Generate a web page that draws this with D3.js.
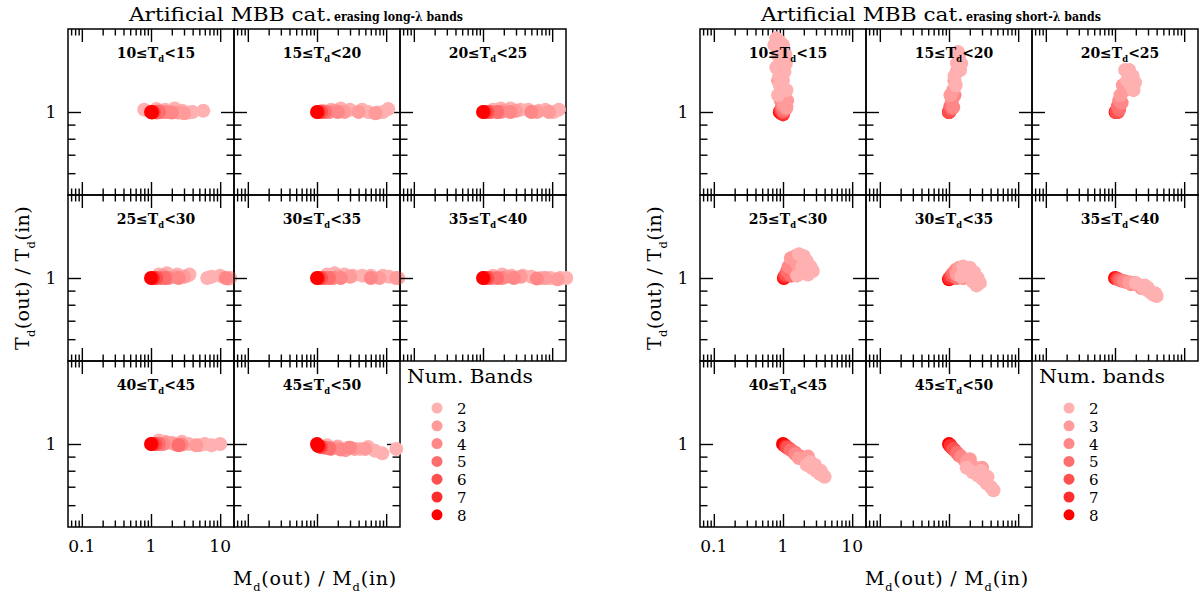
<!DOCTYPE html>
<html>
<head>
<meta charset="utf-8">
<script src="https://cdn.jsdelivr.net/npm/d3@7"></script>
<style>
body { margin: 0; background: #fff; }
svg { display: block; }
</style>
</head>
<body>
<svg id="fig" width="1204" height="599"></svg>
<script>
const bandCounts = [2, 3, 4, 5, 6, 7, 8];
const bandColors = ['#ffb0b0', '#ff9b9b', '#ff8787', '#ff6e6e', '#ff5050', '#ff2d2d', '#ff0000'];
const tempBins = [[10, 15], [15, 20], [20, 25], [25, 30], [30, 35], [35, 40], [40, 45], [45, 50]];
const xMajorTicks = [0.1, 1, 10];
const xMinorTicks = [0.07, 0.08, 0.09, 0.2, 0.3, 0.4, 0.5, 0.6, 0.7, 0.8, 0.9, 2, 3, 4, 5, 6, 7, 8, 9];
const yMajorTicks = [1];
const yMinorTicks = [0.6, 0.7, 0.8, 0.9];
const xTickLabels = ['0.1', '1', '10'];
const yTickLabels = ['1'];

// one list per Td bin: [Md(out)/Md(in), Td(out)/Td(in), number of bands]
const longErased = [
  [[0.8,1.02,2],[1.2,1.025,2],[1.6,1.02,2],[2.2,1.03,2],[2.8,1.01,2],[3.5,0.995,2],[4.0,1.0,2],[5.7,1.01,2],
   [1.3,1.01,3],[1.8,1.0,3],[2.5,0.995,3],[3.0,0.99,3],
   [1.4,1.0,4],[1.6,1.0,4],[2.0,0.995,4],
   [1.2,0.995,5],[1.3,1.0,5],[1.1,1.0,6],[1.05,1.0,7],[1.0,1.0,8],[1.03,0.995,8]],
  [[1.2,1.01,2],[1.6,1.02,2],[2.2,1.03,2],[3.0,1.02,2],[4.5,1.02,2],[5.5,1.0,2],[7.5,0.995,2],[9.0,1.0,2],[10.7,1.025,2],
   [1.8,1.01,3],[2.5,1.0,3],[4.0,1.0,3],[7.0,0.99,3],
   [1.5,1.0,4],[2.0,1.0,4],[1.3,1.0,5],[1.15,1.0,6],[1.05,1.0,7],[1.0,1.0,8]],
  [[1.4,1.02,2],[1.8,1.03,2],[2.5,1.03,2],[3.5,1.02,2],[4.5,1.02,2],[6.5,1.01,2],[8.0,1.02,2],[10.5,1.0,2],[12.5,1.02,2],
   [2.0,1.01,3],[3.0,1.01,3],[6.0,1.0,3],[9.0,1.0,3],
   [1.8,1.0,4],[2.5,1.0,4],[5.0,1.0,4],[1.3,1.0,5],[1.6,1.0,5],[1.15,1.0,6],[1.05,1.0,7],[1.0,1.0,8]],
  [[1.3,1.03,2],[1.7,1.04,2],[2.4,1.03,2],[3.4,1.02,2],[3.6,1.03,2],[6.5,1.0,2],[7.5,1.01,2],[10.0,1.02,2],[14.0,1.0,2],
   [1.5,1.02,3],[2.2,1.01,3],[3.0,1.01,3],[13.0,0.995,3],
   [1.8,1.0,4],[2.5,1.0,4],[12.0,1.0,4],[1.4,1.0,5],[1.6,1.0,5],[1.2,1.0,6],[1.07,1.0,7],[1.0,1.0,8]],
  [[1.4,1.03,2],[1.8,1.04,2],[2.5,1.03,2],[3.3,1.02,2],[4.5,1.02,2],[6.0,1.02,2],[9.0,1.02,2],[11.0,1.01,2],[15.0,1.0,2],
   [2.0,1.01,3],[3.0,1.01,3],[8.0,1.0,3],[14.0,1.0,3],
   [1.7,1.0,4],[2.2,1.0,4],[6.0,1.0,4],[1.3,1.0,5],[1.5,1.0,5],[1.15,1.0,6],[1.05,1.0,7],[1.0,1.0,8]],
  [[1.4,1.02,2],[1.9,1.03,2],[2.6,1.02,2],[3.8,1.02,2],[5.0,1.01,2],[7.0,1.0,2],[9.5,1.0,2],[13.0,1.0,2],[16.0,1.0,2],
   [2.2,1.01,3],[3.5,1.01,3],[8.0,1.0,3],[12.0,0.99,3],
   [1.9,1.0,4],[2.8,1.0,4],[6.0,0.995,4],[1.3,1.0,5],[1.6,1.0,5],[1.15,1.0,6],[1.05,1.0,7],[1.0,1.0,8]],
  [[1.3,1.03,2],[1.6,1.02,2],[2.0,1.01,2],[2.8,1.02,2],[3.5,1.0,2],[5.0,0.99,2],[6.0,1.0,2],[7.5,0.99,2],[10.0,1.0,2],
   [1.7,1.01,3],[2.2,1.0,3],[4.5,0.99,3],
   [1.5,1.0,4],[2.8,0.995,4],[1.3,1.0,5],[2.5,0.99,5],[1.15,1.0,6],[1.05,1.0,7],[1.0,1.0,8]],
  [[1.4,0.99,2],[2.0,0.98,2],[2.8,0.97,2],[4.2,0.96,2],[5.5,0.975,2],[6.9,0.945,2],[8.8,0.925,2],[14.0,0.96,2],
   [1.9,0.97,3],[2.6,0.95,3],[3.5,0.96,3],[5.0,0.96,3],
   [1.6,0.96,4],[2.2,0.955,4],[3.0,0.97,4],[1.3,0.97,5],[1.5,0.965,5],[1.15,0.975,6],[1.08,0.98,7],[1.0,1.0,8],[1.03,0.985,8]]
];

const shortErased = [
  [[0.88,1.35,2],[0.92,1.5,2],[1.0,1.55,2],[0.95,1.7,2],[1.05,1.4,2],[0.8,1.85,2],[0.9,1.8,2],[0.75,1.75,2],[1.0,1.75,2],
   [1.0,1.3,2],[1.12,1.2,2],[0.85,1.6,2],[0.9,1.25,2],[0.8,1.45,2],[1.1,1.5,2],[1.08,1.62,2],[0.85,1.15,2],
   [1.02,1.08,3],[0.95,1.2,3],[1.15,1.1,3],[0.85,1.3,3],[1.12,1.04,3],
   [1.0,1.05,4],[0.93,1.1,4],[1.1,1.03,4],
   [0.97,1.04,5],[1.02,1.01,5],[0.95,1.02,6],[1.0,1.0,6],[0.92,1.01,7],[1.0,0.98,7],[0.9,1.0,8],[0.95,0.99,8]],
  [[1.2,1.35,2],[1.3,1.5,2],[1.4,1.6,2],[1.5,1.5,2],[1.35,1.65,2],[1.25,1.25,2],[1.45,1.42,2],
   [1.15,1.2,3],[1.2,1.3,3],[1.3,1.4,3],[1.05,1.15,3],
   [1.1,1.1,4],[1.2,1.15,4],[1.15,1.04,4],[1.05,1.05,5],[1.1,1.03,5],[1.0,1.0,6],[1.03,1.02,6],[1.0,1.0,7],[1.0,1.0,8]],
  [[1.4,1.42,2],[1.6,1.42,2],[1.8,1.35,2],[1.95,1.28,2],[1.5,1.3,2],[1.7,1.25,2],[1.85,1.2,2],
   [1.3,1.25,3],[1.2,1.15,3],[1.4,1.2,3],
   [1.15,1.1,4],[1.25,1.08,4],[1.1,1.05,5],[1.15,1.02,5],[1.05,1.0,6],[1.1,1.0,6],[1.05,1.0,7],[1.02,1.0,8]],
  [[1.7,1.22,2],[2.0,1.2,2],[2.2,1.15,2],[2.5,1.1,2],[2.7,1.06,2],[1.9,1.1,2],[2.3,1.03,2],[1.6,1.02,2],
   [1.3,1.18,3],[1.6,1.12,3],[1.8,1.05,3],[1.5,1.2,3],
   [1.2,1.1,4],[1.5,1.05,4],[1.4,1.15,4],[1.15,1.06,5],[1.3,1.02,5],[1.1,1.03,6],[1.05,1.01,7],[1.03,1.0,8]],
  [[1.6,1.1,2],[2.0,1.09,2],[2.3,1.05,2],[2.6,1.0,2],[2.8,0.96,2],[2.2,0.97,2],[1.5,1.01,2],[2.5,0.94,2],
   [1.4,1.09,3],[1.8,1.07,3],[2.0,1.02,3],[1.3,1.03,3],
   [1.25,1.07,4],[1.5,1.06,4],[1.6,1.0,4],[1.15,1.04,5],[1.3,1.0,5],[1.08,1.02,6],[1.03,1.0,7],[1.0,0.99,8]],
  [[2.0,0.96,2],[2.5,0.93,2],[2.8,0.91,2],[3.2,0.89,2],[3.6,0.87,2],[4.0,0.86,2],[3.0,0.92,2],[3.8,0.88,2],[2.7,0.94,2],
   [1.6,0.965,3],[2.0,0.95,3],[2.4,0.92,3],[2.2,0.94,3],
   [1.35,0.975,4],[1.7,0.95,4],[1.9,0.96,4],[1.2,0.98,5],[1.4,0.97,5],[1.12,0.99,6],[1.05,0.995,7],[1.0,1.0,8]],
  [[2.2,0.84,2],[2.6,0.82,2],[3.0,0.8,2],[3.4,0.78,2],[3.8,0.77,2],[4.0,0.76,2],[3.5,0.8,2],[2.9,0.84,2],[2.5,0.86,2],
   [1.7,0.89,3],[2.2,0.87,3],[2.6,0.85,3],[2.3,0.9,3],
   [1.5,0.92,4],[1.8,0.9,4],[2.1,0.88,4],[1.3,0.95,5],[1.5,0.93,5],[1.15,0.97,6],[1.25,0.96,6],[1.1,0.98,7],[1.0,1.0,8],[1.05,0.99,8]],
  [[1.8,0.82,2],[2.2,0.79,2],[2.6,0.77,2],[3.0,0.75,2],[3.5,0.72,2],[4.0,0.7,2],[4.4,0.68,2],[3.6,0.76,2],[2.9,0.8,2],
   [1.8,0.86,3],[2.2,0.83,3],[2.6,0.8,3],[2.0,0.88,3],[3.0,0.82,3],
   [1.5,0.9,4],[1.7,0.87,4],[1.9,0.85,4],[1.3,0.93,5],[1.4,0.91,5],[1.15,0.96,6],[1.2,0.95,6],[1.08,0.975,7],[1.05,0.985,7],[1.0,1.0,8],[1.03,0.99,8]]
];

const svg = d3.select('#fig');
const pw = 166, ph = 166, top0 = 29;
const serif = "'DejaVu Serif', serif";

const x = d3.scaleLog().domain([Math.pow(10, -1.2), Math.pow(10, 1.2)]).range([0, pw]);
const y = d3.scaleLog().domain([0.5, 2]).range([ph, 0]);
const color = d3.scaleOrdinal().domain(bandCounts).range(bandColors);

const grids = [
  {x0: 68, pts: longErased, order: 1, sub: 'erasing long-λ bands', subLen: 129, legend: 'Num. Bands'},
  {x0: 700, pts: shortErased, order: -1, sub: 'erasing short-λ bands', subLen: 135, legend: 'Num. bands'}
];

const tickAxis = (p, axisFn, scale, values, size, tx, ty) => {
  p.append('g')
  .attr('transform', `translate(${tx},${ty})`)
  .call(axisFn(scale).tickValues(values).tickSize(-size).tickFormat(''))
  .call(a => a.select('.domain').remove())
  .selectAll('line')
  .attr('stroke', '#000')
  .attr('stroke-width', 1.4);
}

// text pieces, each [normal text, subscript]; baseline shift is undone on the next piece
const subText = (sel, parts, size) => {
  let shift = 0;
  parts.forEach(pt => {
    const t = sel.append('tspan').text(pt[0]);
    if (shift) { t.attr('dy', -shift); shift = 0; }
    if (pt[1]) {
      shift = size * 0.3;
      sel.append('tspan').attr('font-size', size * 0.6).attr('dy', shift).text(pt[1]);
    }
  })
}

grids.forEach(gr => {

  const g = svg.append('g').attr('transform', `translate(${gr.x0},0)`);

  tempBins.forEach((bin, i) => {

    const col = i % 3, row = Math.floor(i / 3);
    const p = g.append('g').attr('transform', `translate(${col * pw},${top0 + row * ph})`);

    p.append('rect')
    .attr('width', pw)
    .attr('height', ph)
    .attr('fill', 'none')
    .attr('stroke', '#000')
    .attr('stroke-width', 1.5);

    tickAxis(p, d3.axisTop, x, xMajorTicks, 13, 0, 0);
    tickAxis(p, d3.axisTop, x, xMinorTicks, 6.5, 0, 0);
    tickAxis(p, d3.axisBottom, x, xMajorTicks, 13, 0, ph);
    tickAxis(p, d3.axisBottom, x, xMinorTicks, 6.5, 0, ph);
    tickAxis(p, d3.axisLeft, y, yMajorTicks, 13, 0, 0);
    tickAxis(p, d3.axisLeft, y, yMinorTicks, 7.5, 0, 0);
    tickAxis(p, d3.axisRight, y, yMajorTicks, 13, pw, 0);
    tickAxis(p, d3.axisRight, y, yMinorTicks, 7.5, pw, 0);

    const pts = gr.pts[i].slice().sort((a, b) => gr.order * (a[2] - b[2]));

    p.append('g')
    .selectAll('circle')
    .data(pts)
    .enter()
    .append('circle')
    .attr('cx', d => x(d[0]))
    .attr('cy', d => y(d[1]))
    .attr('r', 7)
    .attr('fill', d => color(d[2]));

    const lab = p.append('text')
    .attr('x', pw / 2 + 5)
    .attr('y', 29)
    .attr('text-anchor', 'middle')
    .attr('font-family', serif)
    .attr('font-weight', 'bold')
    .attr('font-size', 14);
    subText(lab, [[bin[0] + '≤T', 'd'], ['<' + bin[1]]], 14);

    if (col === 0) {
      yMajorTicks.forEach((v, k) => {
        p.append('text')
        .attr('x', -17)
        .attr('y', y(v) + 6)
        .attr('text-anchor', 'middle')
        .attr('font-family', serif)
        .attr('font-size', 17)
        .text(yTickLabels[k]);
      })
    }

    if (i === 6) {
      xMajorTicks.forEach((v, k) => {
        p.append('text')
        .attr('x', x(v))
        .attr('y', ph + 25)
        .attr('text-anchor', 'middle')
        .attr('font-family', serif)
        .attr('font-size', 17)
        .text(xTickLabels[k]);
      })
    }
  })

  // titles
  g.append('text')
  .attr('x', 61)
  .attr('y', 21)
  .attr('font-family', serif)
  .attr('font-size', 19)
  .attr('textLength', 203)
  .attr('lengthAdjust', 'spacingAndGlyphs')
  .text('Artificial MBB cat.');

  g.append('text')
  .attr('x', 266)
  .attr('y', 21)
  .attr('font-family', serif)
  .attr('font-weight', 'bold')
  .attr('font-size', 13)
  .attr('textLength', gr.subLen)
  .attr('lengthAdjust', 'spacingAndGlyphs')
  .text(gr.sub);

  const yt = g.append('text')
  .attr('transform', `translate(-39,${top0 + ph * 1.5}) rotate(-90)`)
  .attr('text-anchor', 'middle')
  .attr('font-family', serif)
  .attr('font-size', 19)
  .attr('letter-spacing', 0.4);
  subText(yt, [['T', 'd'], ['(out) / T', 'd'], ['(in)']], 19);

  const xt = g.append('text')
  .attr('x', 247)
  .attr('y', 585)
  .attr('text-anchor', 'middle')
  .attr('font-family', serif)
  .attr('font-size', 19)
  .attr('letter-spacing', 0.8);
  subText(xt, [['M', 'd'], ['(out) / M', 'd'], ['(in)']], 19);

  // legend
  g.append('text')
  .attr('x', 339)
  .attr('y', 383)
  .attr('font-family', serif)
  .attr('font-size', 18)
  .attr('textLength', 126)
  .attr('lengthAdjust', 'spacingAndGlyphs')
  .text(gr.legend);

  const leg = g.append('g')
  .selectAll('g')
  .data(bandCounts)
  .enter()
  .append('g')
  .attr('transform', (d, k) => `translate(369,${408 + k * 17.8})`);

  leg.append('circle')
  .attr('r', 5.5)
  .attr('fill', d => color(d));

  leg.append('text')
  .attr('x', 20)
  .attr('y', 6)
  .attr('font-family', serif)
  .attr('font-size', 15)
  .text(d => d);
})
</script>
</body>
</html>
